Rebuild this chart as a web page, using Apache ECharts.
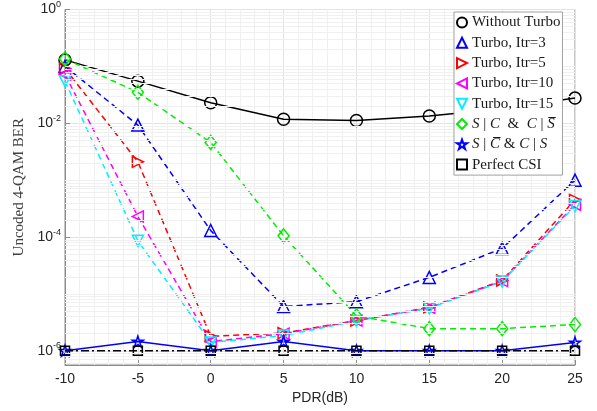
<!DOCTYPE html>
<html>
<head>
<meta charset="utf-8">
<script src="https://cdn.jsdelivr.net/npm/echarts@6/dist/echarts.min.js"></script>
<style>
    html, body {margin:0; padding:0; background:#fff;}
    #myChart {width:597px; height:411px;}
</style>
</head>
<body>
<div id="myChart"></div>
<script>
// PDR (dB) on the x axis
var pdr = [-10, -5, 0, 5, 10, 15, 20, 25];

// uncoded BER
var berNoTurbo = [0.13, 0.055, 0.023, 0.0118, 0.0112, 0.0134, 0.018, 0.0277];
var berItr3 = [0.1, 0.0093, 1.3e-4, 6.0e-6, 7.3e-6, 1.95e-5, 6.3e-5, 1.0e-3];
var berItr5 = [0.092, 2.1e-3, 1.8e-6, 2.05e-6, 3.4e-6, 5.8e-6, 1.72e-5, 4.5e-4];
var berItr10 = [0.072, 2.3e-4, 1.45e-6, 2.0e-6, 3.4e-6, 5.7e-6, 1.68e-5, 3.7e-4];
var berItr15 = [0.055, 8.6e-5, 1.4e-6, 1.85e-6, 3.35e-6, 5.6e-6, 1.65e-5, 3.5e-4];
var berSC = [0.135, 0.035, 4.6e-3, 1.05e-4, 4.1e-6, 2.45e-6, 2.45e-6, 2.9e-6];
var berStar = [1e-6, 1.45e-6, 1e-6, 1.45e-6, 1e-6, 1e-6, 1e-6, 1.4e-6];
var berCSI = [1e-6, 1e-6, 1e-6, 1e-6, 1e-6, 1e-6, 1e-6, 1e-6];

// y tick exponents that carry a label
var yTickExps = [-6, -4, -2, 0];

var triRight = 'path://M0,0L10,5L0,10Z';
var triLeft = 'path://M10,0L0,5L10,10Z';
var triDown = 'path://M0,0L10,0L5,10Z';
var star = 'path://M5,0L6.2,3.6L10,3.6L6.9,5.8L8.1,9.5L5,7.2L1.9,9.5L3.1,5.8L0,3.6L3.8,3.6Z';

function toLog(arr){
    return arr.map(function(v, i){
        return [pdr[i], Math.log10(v)];
    });
}

function mkSeries(name, data, color, symbol, size, lineType){
    return {
        name: name,
        type: 'line',
        data: toLog(data),
        symbol: symbol,
        symbolSize: size,
        showAllSymbol: true,
        lineStyle: {color: color, width: 1.5, type: lineType},
        itemStyle: {color: 'rgba(255,255,255,0)', borderColor: color, borderWidth: 1.5},
        emphasis: {disabled: true},
        z: 3
    };
}

// log minor grid (2..9 x 10^k, plus the odd decades)
var minorLines = [];
for (var k = -7; k < 0; k++) {
    for (var m = 1; m <= 9; m++) {
        if (m === 1 && k % 2 === 0) continue;
        var y = k + Math.log10(m);
        if (y > -6.25 && y < 0) minorLines.push({yAxis: y});
    }
}

var chart = echarts.init(document.getElementById('myChart'));
chart.setOption({
    animation: false,
    backgroundColor: '#fff',
    grid: {
        left: 65,
        right: 22,
        top: 8,
        bottom: 46,
        show: true,
        borderColor: '#8c8c8c',
        borderWidth: 1
    },
    legend: {
        orient: 'vertical',
        left: 454,
        top: 12,
        z: 20,
        padding: [2, 2, 2, 2],
        itemGap: 3.3,
        itemWidth: 10,
        itemHeight: 10,
        backgroundColor: '#fff',
        borderColor: '#a0a0a0',
        borderWidth: 1,
        textStyle: {
            fontFamily: 'Liberation Serif',
            fontSize: 15,
            lineHeight: 17,
            color: '#1a1a1a',
            rich: {
                i: {fontFamily: 'Liberation Serif', fontStyle: 'italic', fontSize: 15, color: '#1a1a1a'}
            }
        },
        formatter: function(name){
            if (name === 'S1') return '{i|S} | {i|C}  &  {i|C} | {i|S\u0305}';
            if (name === 'S2') return '{i|S} | {i|C\u0305} & {i|C} | {i|S}';
            return name;
        },
        data: [
            {name: 'Without Turbo', icon: 'circle'},
            {name: 'Turbo, Itr=3', icon: 'triangle'},
            {name: 'Turbo, Itr=5', icon: triRight},
            {name: 'Turbo, Itr=10', icon: triLeft},
            {name: 'Turbo, Itr=15', icon: triDown},
            {name: 'S1', icon: 'diamond'},
            {name: 'S2', icon: star},
            {name: 'Perfect CSI', icon: 'rect'}
        ]
    },
    xAxis: {
        type: 'value',
        min: -10,
        max: 25,
        interval: 5,
        name: 'PDR(dB)',
        nameLocation: 'middle',
        nameGap: 22,
        nameTextStyle: {fontFamily: 'Liberation Sans', fontSize: 14, color: '#262626'},
        axisLine: {show: true, onZero: false, lineStyle: {color: '#8c8c8c'}},
        axisTick: {show: true, inside: true, length: 5, lineStyle: {color: '#8c8c8c'}},
        axisLabel: {fontFamily: 'Liberation Sans', fontSize: 14, color: '#262626', margin: 7},
        splitLine: {show: true, lineStyle: {color: '#e3e3e3', width: 1}},
        minorTick: {show: false, splitNumber: 5},
        minorSplitLine: {show: true, lineStyle: {color: '#f0f0f0', width: 1}}
    },
    yAxis: {
        type: 'value',
        min: -6.25,
        max: 0,
        name: 'Uncoded 4-QAM BER',
        nameLocation: 'middle',
        nameGap: 31,
        nameTextStyle: {fontFamily: 'Liberation Serif', fontSize: 15, color: '#404040'},
        axisLine: {show: true, onZero: false, lineStyle: {color: '#8c8c8c'}},
        axisTick: {show: true, inside: true, length: 5, customValues: yTickExps, lineStyle: {color: '#8c8c8c'}},
        axisLabel: {
            customValues: yTickExps,
            margin: 4,
            formatter: function(v){
                return '{b|10}{s|' + Math.round(v) + '}';
            },
            rich: {
                b: {fontFamily: 'Liberation Sans', fontSize: 14, color: '#262626'},
                s: {fontFamily: 'Liberation Sans', fontSize: 9, color: '#262626', verticalAlign: 'bottom', padding: [0, 0, 10, 0]}
            }
        },
        splitLine: {show: true, lineStyle: {color: '#e3e3e3', width: 1}}
    },
    series: [
        {
            name: 'grid-minor',
            type: 'line',
            data: [],
            silent: true,
            z: 1,
            markLine: {
                silent: true,
                symbol: 'none',
                label: {show: false},
                lineStyle: {color: '#f0f0f0', width: 1, type: 'solid'},
                data: minorLines
            }
        },
        mkSeries('Without Turbo', berNoTurbo, '#000000', 'circle', 12, 'solid'),
        mkSeries('Turbo, Itr=3', berItr3, '#0000ff', 'triangle', 12, [6, 4]),
        mkSeries('Turbo, Itr=5', berItr5, '#ff0000', triRight, 11, [6, 4]),
        mkSeries('Turbo, Itr=10', berItr10, '#ff00ff', triLeft, 11, [6, 4]),
        mkSeries('Turbo, Itr=15', berItr15, '#00f0ff', triDown, 11, [6, 4]),
        mkSeries('S1', berSC, '#00ee00', 'diamond', [11, 14], [6, 4]),
        mkSeries('S2', berStar, '#0000ff', star, 11, 'solid'),
        mkSeries('Perfect CSI', berCSI, '#000000', 'rect', 9, [8, 3, 2, 3])
    ]
});
</script>
</body>
</html>
